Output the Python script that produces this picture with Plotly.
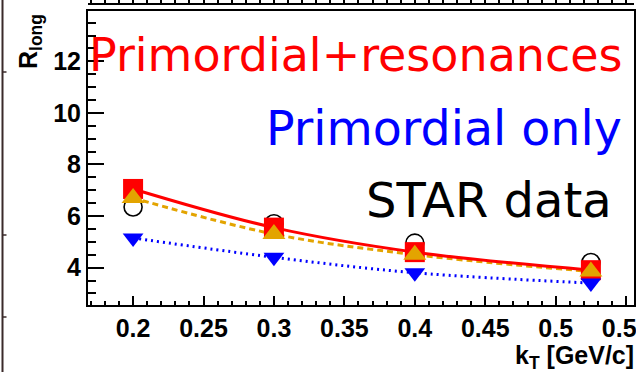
import plotly.graph_objects as go

# kT bins [GeV/c] and R_long values [fm]
kt = [0.2, 0.3, 0.4, 0.525]
star_data = [6.35, 5.7, 4.95, 4.2]
prim_res = [7.05, 5.55, 4.6, 3.9]
prim_res_alt = [6.7, 5.3, 4.5, 3.85]
prim_only = [5.15, 4.4, 3.8, 3.4]

x_tick_vals = [0.2, 0.25, 0.3, 0.35, 0.4, 0.45, 0.5, 0.55]
x_tick_text = ["0.2", "0.25", "0.3", "0.35", "0.4", "0.45", "0.5", "0.55"]
y_tick_vals = [4, 6, 8, 10, 12]
y_tick_text = ["4", "6", "8", "10", "12"]

RED = "#ff0000"
BLUE = "#0000ff"
ORANGE = "#e3a400"
AXIS_FONT = "Liberation Sans"
TEXT_FONT = "DejaVu Sans"

# page geometry in pixels
W, H = 636, 372
ML, MR, MT, MB = 88, 2, 4, 67
FRAME_TOP = 11
plot_w = W - ML - MR
plot_h = H - MT - MB
ydom_top = (plot_h - (FRAME_TOP - MT)) / plot_h
X_RANGE = [0.168, 0.5556]


def px(xpix):
    return (xpix - ML) / plot_w


def py(ypix):
    return (H - MB - ypix) / plot_h


fig = go.Figure()

# curves underneath all markers
for vals, color, dash in [
    (prim_only, BLUE, "2px,4px"),
    (prim_res_alt, ORANGE, "6px,4px"),
    (prim_res, RED, "solid"),
]:
    fig.add_trace(go.Scatter(
        x=kt, y=vals, mode="lines", hoverinfo="skip",
        line=dict(color=color, width=3, dash=dash, shape="spline"),
    ))

fig.add_trace(go.Scatter(
    x=kt, y=star_data, mode="markers", name="STAR data",
    marker=dict(symbol="circle-open", size=18, color="black", line=dict(width=1.6)),
))
fig.add_trace(go.Scatter(
    x=kt, y=prim_res, mode="markers", name="Primordial+resonances",
    marker=dict(symbol="square", size=20, color=RED, line=dict(width=0)),
))
fig.add_trace(go.Scatter(
    x=kt, y=prim_res_alt, mode="markers", name="Primordial+resonances (alt)",
    marker=dict(symbol="triangle-up", size=20, color=ORANGE, line=dict(width=0)),
))
fig.add_trace(go.Scatter(
    x=kt, y=prim_only, mode="markers", name="Primordial only",
    marker=dict(symbol="triangle-down", size=18, color=BLUE, line=dict(width=0)),
))

# empty trace that carries the frame axis of the panel above
fig.add_trace(go.Scatter(x=[], y=[], xaxis="x2", yaxis="y", hoverinfo="skip"))

axis_font = dict(family=AXIS_FONT, size=25, color="black", weight="bold")

fig.update_layout(
    template="none",
    width=W, height=H,
    margin=dict(l=ML, r=MR, t=MT, b=MB, pad=0),
    paper_bgcolor="white", plot_bgcolor="white",
    showlegend=False,
    xaxis=dict(
        range=X_RANGE, domain=[0, 1], automargin=False,
        tickmode="array", tickvals=x_tick_vals, ticktext=x_tick_text,
        ticklabeloverflow="allow",
        ticks="inside", ticklen=9, tickwidth=1.5, tickcolor="black",
        minor=dict(tickmode="linear", tick0=0, dtick=0.01, ticks="inside",
                   ticklen=4.5, tickwidth=1.5, tickcolor="black"),
        showline=True, linecolor="black", linewidth=2, mirror=True,
        showgrid=False, zeroline=False, tickfont=axis_font,
    ),
    xaxis2=dict(
        range=X_RANGE, overlaying="x", anchor="free", position=1, side="top",
        automargin=False, tickmode="linear", tick0=0, dtick=0.01,
        ticks="outside", ticklen=5, tickwidth=1.5, tickcolor="black",
        showticklabels=False, showline=True, linecolor="black", linewidth=1.5,
        showgrid=False, zeroline=False,
    ),
    yaxis=dict(
        range=[2.55, 13.95], domain=[0, ydom_top], automargin=False,
        tickmode="array", tickvals=y_tick_vals, ticktext=y_tick_text,
        ticks="inside", ticklen=16, tickwidth=1.5, tickcolor="black",
        minor=dict(tickmode="linear", tick0=0, dtick=0.5, ticks="inside",
                   ticklen=8, tickwidth=1.5, tickcolor="black"),
        showline=True, linecolor="black", linewidth=2, mirror=True,
        showgrid=False, zeroline=False, tickfont=axis_font,
    ),
)

# frame edge of the neighbouring panel on the left
edge_x = px(2.5)
shapes = [dict(type="line", xref="paper", yref="paper", x0=edge_x, x1=edge_x,
               y0=py(H), y1=py(0), line=dict(color="#3a2a2a", width=2))]
for ty in (72, 235, 317):
    shapes.append(dict(type="line", xref="paper", yref="paper",
                       x0=edge_x, x1=px(6.5), y0=py(ty), y1=py(ty),
                       line=dict(color="#3a2a2a", width=1.5)))
fig.update_layout(shapes=shapes)

annotations = [
    dict(text="Primordial+resonances", x=px(87), xanchor="left",
         y=py(55), yanchor="middle",
         font=dict(family=TEXT_FONT, size=46, color=RED)),
    dict(text="Primordial only", x=px(624), xanchor="right",
         y=py(128), yanchor="middle",
         font=dict(family=TEXT_FONT, size=47.5, color=BLUE)),
    dict(text="STAR data", x=px(614), xanchor="right",
         y=py(200), yanchor="middle",
         font=dict(family=TEXT_FONT, size=48, color="black")),
    dict(text="<b>R<sub>long</sub></b>", textangle=-90,
         x=px(30.5), xanchor="center", y=py(12), yanchor="top",
         font=dict(family=AXIS_FONT, size=25, color="black")),
    dict(text="<b>k<sub>T</sub> [GeV/c]</b>", x=px(636), xanchor="right",
         y=py(339), yanchor="top",
         font=dict(family=AXIS_FONT, size=25, color="black")),
]
for a in annotations:
    a.update(xref="paper", yref="paper", showarrow=False)
fig.update_layout(annotations=annotations)

fig.write_html("out.html")
